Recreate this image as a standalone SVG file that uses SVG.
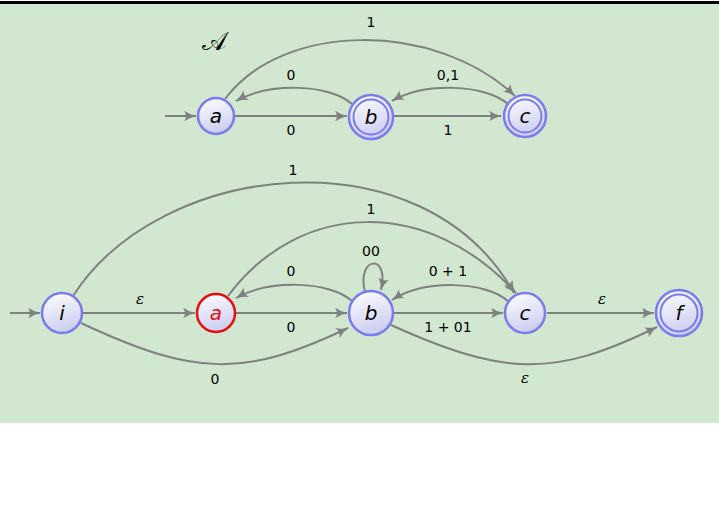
<svg xmlns="http://www.w3.org/2000/svg" width="719" height="517" viewBox="0 0 719 517">
<style>
.edge{fill:none;stroke:#808080;stroke-width:2;marker-end:url(#arr)}
.node{fill:url(#ng);stroke:#7b7bef;stroke-width:2.5}
.ring{fill:none;stroke:#7b7bef;stroke-width:2}
.nl{font-family:"DejaVu Sans",sans-serif;font-style:italic;font-size:20px;text-anchor:middle;fill:#000}
.el{font-family:"DejaVu Sans",sans-serif;font-size:14px;text-anchor:middle;fill:#000}
.eps{font-family:"DejaVu Serif",serif;font-style:italic;font-size:15px;text-anchor:middle;fill:#000}
</style>
<defs>
<linearGradient id="ng" x1="0" y1="0" x2="0.3" y2="1">
<stop offset="0" stop-color="#ffffff"/>
<stop offset="1" stop-color="#cfcff3"/>
</linearGradient>
<marker id="arr" markerUnits="userSpaceOnUse" markerWidth="13" markerHeight="12" viewBox="0 0 11 10" refX="10" refY="5" orient="auto">
<path d="M0,0.5 Q5,4 10.5,5 Q5,6 0,9.5 Q3,5 0,0.5 z" fill="#808080"/>
</marker>
</defs>
<rect x="0" y="0" width="719" height="517" fill="#ffffff"/>
<rect x="0" y="3" width="719" height="420" fill="#d1e7d0"/>
<rect x="0" y="1" width="719" height="3" fill="#000000"/>

<g id="connectors">
<path class="edge" d="M165,116 L196,116"/>
<path class="edge" d="M235,116 L347,116"/>
<path class="edge" d="M352,104 C330,84 270,82 236,101"/>
<path class="edge" d="M393,116 L501,116"/>
<path class="edge" d="M508,104 C485,84 425,82 392,101"/>
<path class="edge" d="M225,99 C283,21 436,21 515,96"/>
<path class="edge" d="M10,313 L40,313"/>
<path class="edge" d="M82,313 L195,313"/>
<path class="edge" d="M235,313 L347,313"/>
<path class="edge" d="M352,301 C330,281 270,279 236,298"/>
<path class="edge" d="M365,292 C356,256 390,253 381,290"/>
<path class="edge" d="M508,301 C485,281 425,279 392,300"/>
<path class="edge" d="M393,313 L503,313"/>
<path class="edge" d="M547,313 L654,313"/>
<path class="edge" d="M391,325 C506,377 555,377 657,327"/>
<path class="edge" d="M81,323 C196,377 245,377 348,328"/>
<path class="edge" d="M73,296 C160,160 423,131 514,293"/>
<path class="edge" d="M228,296 C301,198 430,198 516,293"/>
</g>

<g id="edge-labels">
<text class="el" x="291" y="135">0</text>
<text class="el" x="291" y="80">0</text>
<text class="el" x="448" y="135">1</text>
<text class="el" x="448" y="80">0,1</text>
<text class="el" x="371" y="27">1</text>
<text class="eps" x="140" y="304">ε</text>
<text class="el" x="291" y="332">0</text>
<text class="el" x="291" y="276">0</text>
<text class="el" x="371" y="256">00</text>
<text class="el" x="448" y="276">0 + 1</text>
<text class="el" x="448" y="332">1 + 01</text>
<text class="eps" x="602" y="304">ε</text>
<text class="eps" x="525" y="383">ε</text>
<text class="el" x="215" y="384">0</text>
<text class="el" x="293" y="175">1</text>
<text class="el" x="371" y="214">1</text>
</g>

<text x="214" y="50" font-family="DejaVu Sans, DejaVu Serif, serif" font-size="26" text-anchor="middle" fill="#000">𝒜</text>

<g id="top-a"><circle class="node" cx="216" cy="116" r="18"/><text class="nl" x="216" y="123">a</text></g>
<g id="top-b"><circle class="node" cx="371" cy="117" r="22"/><circle class="ring" cx="371" cy="117" r="17.5"/><text class="nl" x="371" y="124">b</text></g>
<g id="top-c"><circle class="node" cx="525" cy="116" r="21"/><circle class="ring" cx="525" cy="116" r="16.5"/><text class="nl" x="525" y="123">c</text></g>

<g id="i"><circle class="node" cx="62" cy="313" r="20"/><text class="nl" x="62" y="320">i</text></g>
<g id="a"><circle class="node" cx="216" cy="313" r="19" style="stroke:#e41010"/><text class="nl" x="216" y="320" style="fill:#e41010">a</text></g>
<g id="b"><circle class="node" cx="371" cy="313" r="22"/><text class="nl" x="371" y="320">b</text></g>
<g id="c"><circle class="node" cx="525" cy="313" r="20"/><text class="nl" x="525" y="320">c</text></g>
<g id="f"><circle class="node" cx="679" cy="313" r="23"/><circle class="ring" cx="679" cy="313" r="18.5"/><text class="nl" x="679" y="320">f</text></g>
</svg>
